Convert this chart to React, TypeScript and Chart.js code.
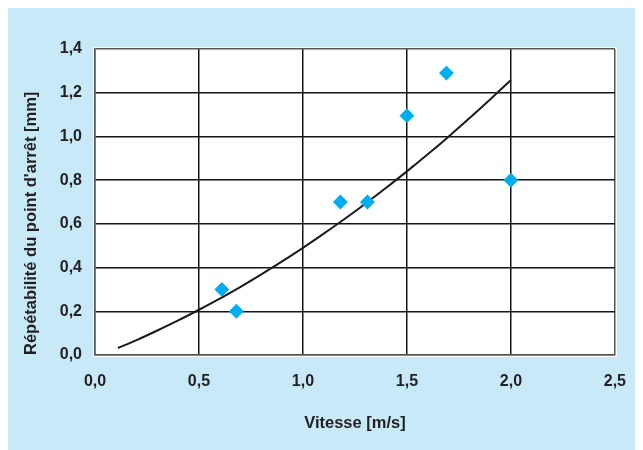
import React, { useEffect, useRef } from "react";
import { Chart, registerables } from "chart.js";

Chart.register(...registerables);

// Measured points: speed [m/s] vs stop-point repeatability [mm]
const speedValues = [0.61, 0.68, 1.18, 1.31, 1.5, 1.69, 2.0];
const repeatValues = [0.3, 0.2, 0.7, 0.7, 1.095, 1.29, 0.8];

// Trend curve
const curveX = [0.11, 0.2, 0.3, 0.4, 0.5, 0.6, 0.7, 0.8, 0.9, 1.0, 1.1, 1.2, 1.3, 1.4, 1.5, 1.6, 1.7, 1.8, 1.9, 2.0];
const curveY = [0.032, 0.068, 0.112, 0.158, 0.207, 0.258, 0.312, 0.369, 0.428, 0.49, 0.555, 0.622, 0.692, 0.765, 0.84, 0.918, 0.999, 1.083, 1.169, 1.258];

const xTickValues = [0, 0.5, 1.0, 1.5, 2.0, 2.5];
const yTickValues = [0, 0.2, 0.4, 0.6, 0.8, 1.0, 1.2, 1.4];

const xTitle = "Vitesse [m/s]";
const yTitle = "Répétabilité du point d'arrêt [mm]";

const BG = "#c7e9f8";
const MARK = "#00aeef";
const TEXT = "#231f20";
const FONT = "'Liberation Sans', Arial, sans-serif";

const fmt = (v: number) => v.toFixed(1).replace(".", ",");

const bgPlugin = {
  id: "bgPlugin",
  beforeDraw(chart: any) {
    const { ctx, chartArea } = chart;
    ctx.save();
    ctx.fillStyle = BG;
    ctx.fillRect(0, 0, chart.width, chart.height);
    ctx.fillStyle = "#ffffff";
    ctx.fillRect(chartArea.left - 2, chartArea.top - 2, chartArea.right - chartArea.left + 4, chartArea.bottom - chartArea.top + 4);
    ctx.restore();
  },
};

export default function App() {
  const ref = useRef<HTMLCanvasElement | null>(null);
  useEffect(() => {
    if (!ref.current) return;
    const gridColor = (ctx: any, count: number) =>
      ctx.index === 0 || ctx.index === count - 1 ? "#555555" : "#151515";
    const chart = new Chart(ref.current, {
      type: "scatter",
      data: {
        datasets: [
          {
            label: "points",
            data: speedValues.map((x, i) => ({ x, y: repeatValues[i] })),
            pointStyle: "rectRot",
            pointRadius: 6,
            pointBorderWidth: 2,
            backgroundColor: MARK,
            borderColor: MARK,
            order: 0,
          },
          {
            label: "courbe",
            data: curveX.map((x, i) => ({ x, y: curveY[i] })),
            showLine: true,
            pointRadius: 0,
            borderColor: "#1a1a1a",
            borderWidth: 2,
            cubicInterpolationMode: "monotone",
            order: 1,
          } as any,
        ],
      },
      options: {
        animation: false,
        responsive: false,
        maintainAspectRatio: false,
        layout: { padding: { left: 0, right: 28, top: 41, bottom: 0 } },
        plugins: { legend: { display: false }, tooltip: { enabled: false } },
        scales: {
          x: {
            type: "linear",
            min: 0,
            max: 2.5,
            afterBuildTicks: (s: any) => {
              s.ticks = xTickValues.map((v) => ({ value: v }));
            },
            afterFit: (s: any) => {
              s.height = 95;
            },
            ticks: {
              callback: (v: any) => fmt(Number(v)),
              color: TEXT,
              font: { family: FONT, size: 16, weight: "bold" },
              padding: 17,
              maxRotation: 0,
            },
            grid: {
              color: (c: any) => gridColor(c, xTickValues.length),
              lineWidth: 1.5,
              drawTicks: false,
            },
            border: { display: true, color: "#555555", width: 1.5 },
            title: {
              display: true,
              text: xTitle,
              color: TEXT,
              font: { family: FONT, size: 16.5, weight: "bold" },
              padding: { top: 0, bottom: 17 },
            },
          },
          y: {
            type: "linear",
            min: 0,
            max: 1.4,
            afterBuildTicks: (s: any) => {
              s.ticks = yTickValues.map((v) => ({ value: v }));
            },
            afterFit: (s: any) => {
              s.width = 87;
            },
            ticks: {
              callback: (v: any) => fmt(Number(v)),
              color: TEXT,
              font: { family: FONT, size: 16, weight: "bold" },
              padding: 13,
            },
            grid: {
              color: (c: any) => gridColor(c, yTickValues.length),
              lineWidth: 1.5,
              drawTicks: false,
            },
            border: { display: true, color: "#555555", width: 1.5 },
            title: {
              display: true,
              text: yTitle,
              align: "start",
              color: TEXT,
              font: { family: FONT, size: 16.5, weight: "bold" },
              padding: { top: 14, bottom: 0 },
            },
          },
        },
      },
      plugins: [bgPlugin],
    });
    return () => chart.destroy();
  }, []);
  return (
    <canvas ref={ref} width={635} height={442} style={{ display: "block", width: 635, height: 442 }} />
  );
}
